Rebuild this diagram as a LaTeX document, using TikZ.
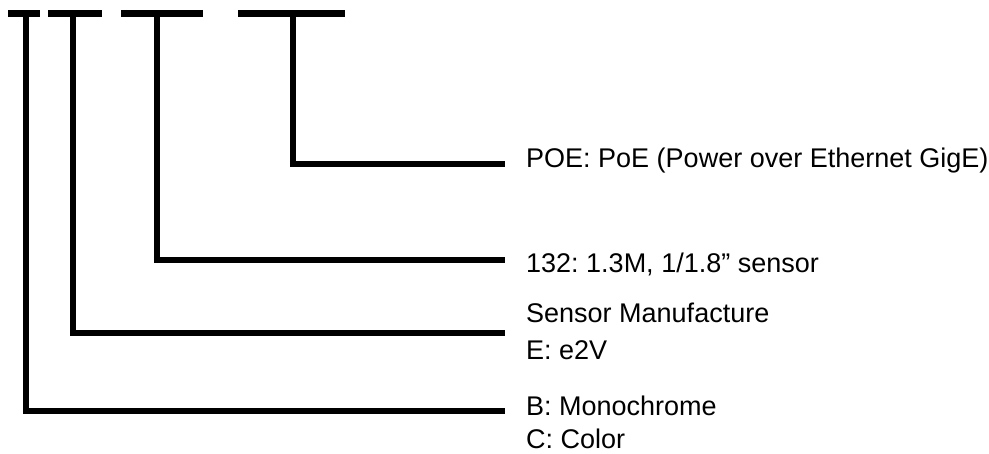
\documentclass[tikz,border=0pt]{standalone}
\usepackage{fontspec}
\setmainfont{Liberation Sans}
\begin{document}
\frenchspacing
\begin{tikzpicture}[x=1pt,y=-1pt,
  bar/.style={line width=6.5pt, line cap=butt},
  lead/.style={line width=6pt, line join=miter, line cap=butt},
  lbl/.style={anchor=base west, inner sep=0pt, font=\fontsize{27}{32}\selectfont}]
\useasboundingbox (0,0) rectangle (989,453);
% top bars
\coordinate (b1a) at (8,13.5);   \coordinate (b1b) at (40,13.5);
\coordinate (b2a) at (48,13.5);  \coordinate (b2b) at (102,13.5);
\coordinate (b3a) at (121,13.5); \coordinate (b3b) at (203,13.5);
\coordinate (b4a) at (238,13.5); \coordinate (b4b) at (345,13.5);
\draw[bar] (b1a) -- (b1b);
\draw[bar] (b2a) -- (b2b);
\draw[bar] (b3a) -- (b3b);
\draw[bar] (b4a) -- (b4b);
% stems
\coordinate (s1) at (26,13.5);
\coordinate (s2) at (73,13.5);
\coordinate (s3) at (157,13.5);
\coordinate (s4) at (293,13.5);
% ends
\coordinate (e1) at (505,411);
\coordinate (e2) at (505,333);
\coordinate (e3) at (505,260);
\coordinate (e4) at (505,164);
\draw[lead] (s1) |- (e1);
\draw[lead] (s2) |- (e2);
\draw[lead] (s3) |- (e3);
\draw[lead] (s4) |- (e4);
% labels
\node[lbl] (poe) at (526,167) {POE: PoE (Power over Ethernet GigE)};
\node[lbl] (res) at (526,272) {132: 1.3M, 1/1.8” sensor};
\node[lbl] (sm) at (526,322) {Sensor Manufacture};
\node[lbl] (e2v) at (526,359) {E: e2V};
\node[lbl] (mono) at (526,415) {B: Monochrome};
\node[lbl] (col) at (526,448) {C: Color};
\end{tikzpicture}
\end{document}
